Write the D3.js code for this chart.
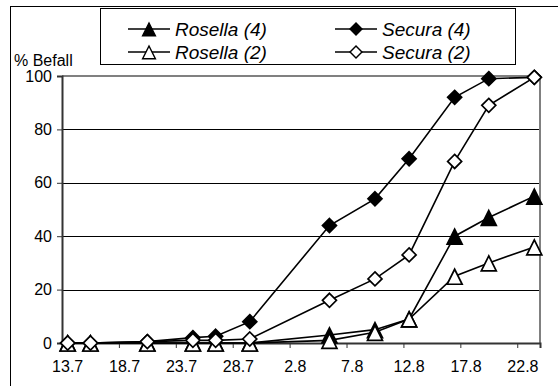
<!DOCTYPE html>
<html>
<head>
<meta charset="utf-8">
<script src="https://cdn.jsdelivr.net/npm/d3@7"></script>
<style>
  body { margin: 0; background: #fff; }
  svg { display: block; font-family: "Liberation Sans", Arial, sans-serif; }
</style>
</head>
<body>
<div id="chart"></div>
<script>
// sampling dates (day.month) and % infestation per variety
var dates = ["13.7", "15.7", "20.7", "24.7", "26.7", "29.7", "5.8", "9.8", "12.8", "16.8", "19.8", "23.8"];
var rosella4 = [0, 0, 0, 0, 0, 0, 3, 5, 9, 40, 47, 55];
var secura4 = [0, 0, 0.5, 2, 2.5, 8, 44, 54, 69, 92, 99, 99.5];
var rosella2 = [0, 0, 0, 0, 0, 0, 1, 4, 9, 25, 30, 36];
var secura2 = [0, 0, 0.5, 1, 1, 1.5, 16, 24, 33, 68, 89, 99.5];
var xTickLabels = ["13.7", "18.7", "23.7", "28.7", "2.8", "7.8", "12.8", "17.8", "22.8"];
var yTicks = [0, 20, 40, 60, 80, 100];

function drawChart() {
    var W = 558, H = 386;
    var pl = 62, pr = 540, pt = 76, pb = 343;

    function parseDay(s) {
        var p = s.split(".");
        return new Date(Date.UTC(2001, +p[1] - 1, +p[0]));
    }
    var HALF = 12 * 3600 * 1000;

    var svg = d3.select("#chart").append("svg")
        .attr("width", W)
        .attr("height", H);

    svg.append("rect").attr("width", W).attr("height", H).attr("fill", "#fff");
    // chart area border (runs off right / bottom)
    svg.append("rect")
        .attr("x", 10.5).attr("y", 6.5)
        .attr("width", 600).attr("height", 400)
        .attr("fill", "none").attr("stroke", "#000").attr("stroke-width", 1);

    var x = d3.scaleUtc()
        .domain([new Date(parseDay("13.7") - HALF), new Date(+parseDay("23.8") + HALF)])
        .range([pl, pr]);
    var y = d3.scaleLinear().domain([0, 100]).range([pb, pt]);

    // gridlines
    svg.append("g").selectAll("line")
        .data(yTicks.filter(function (d) { return d > 0 && d < 100; }))
        .enter().append("line")
        .attr("x1", pl).attr("x2", pr)
        .attr("y1", function (d) { return Math.round(y(d)) + 0.5; })
        .attr("y2", function (d) { return Math.round(y(d)) + 0.5; })
        .attr("stroke", "#000").attr("stroke-width", 1);

    // plot frame top / right in grey
    svg.append("path")
        .attr("d", "M" + pl + "," + y(100) + "H" + pr + "V" + pb)
        .attr("fill", "none").attr("stroke", "#808080").attr("stroke-width", 2);

    // y axis
    var yAxis = svg.append("g")
        .attr("transform", "translate(" + pl + ",0)")
        .call(d3.axisLeft(y).tickValues(yTicks).tickSize(5).tickPadding(5));
    yAxis.select(".domain").attr("stroke", "#333").attr("stroke-width", 2);
    yAxis.selectAll(".tick line").attr("stroke", "#333");
    yAxis.selectAll("text").attr("font-size", 16).attr("fill", "#000")
        .attr("font-family", "Liberation Sans, Arial, sans-serif");

    // x axis: ticks between days, labels on the day
    var tickDates = xTickLabels.map(function (s) { return new Date(parseDay(s) - HALF); });
    var xAxis = svg.append("g")
        .attr("transform", "translate(0," + pb + ")")
        .call(d3.axisBottom(x).tickValues(tickDates).tickSize(5).tickFormat(""));
    xAxis.select(".domain").attr("stroke", "#333").attr("stroke-width", 2);
    xAxis.selectAll(".tick line").attr("stroke", "#333");

    svg.append("g").selectAll("text")
        .data(xTickLabels)
        .enter().append("text")
        .attr("x", function (d) { return x(parseDay(d)); })
        .attr("y", 372)
        .attr("text-anchor", "middle")
        .attr("font-size", 16)
        .text(function (d) { return d; });

    svg.append("text")
        .attr("x", 14).attr("y", 66)
        .attr("font-size", 16)
        .text("% Befall");

    // markers
    var diamond = "M0,-7L7,0L0,7L-7,0Z";
    var triangle = "M0,-7L7.5,8L-7.5,8Z";

    var series = [
        {name: "Rosella (4)", values: rosella4, shape: triangle, fill: "#000"},
        {name: "Secura (4)", values: secura4, shape: diamond, fill: "#000"},
        {name: "Rosella (2)", values: rosella2, shape: triangle, fill: "#fff"},
        {name: "Secura (2)", values: secura2, shape: diamond, fill: "#fff"}
    ];

    var line = d3.line()
        .x(function (d) { return x(d.date); })
        .y(function (d) { return y(d.value); });

    series.forEach(function (s) {
        var pts = dates.map(function (d, i) { return {date: parseDay(d), value: s.values[i]}; });
        var g = svg.append("g");
        g.append("path")
            .attr("d", line(pts))
            .attr("fill", "none").attr("stroke", "#000").attr("stroke-width", 1.6);
        g.selectAll("path.m")
            .data(pts)
            .enter().append("path")
            .attr("class", "m")
            .attr("d", s.shape)
            .attr("transform", function (d) { return "translate(" + x(d.date) + "," + y(d.value) + ")"; })
            .attr("fill", s.fill).attr("stroke", "#000").attr("stroke-width", 1.7)
            .attr("stroke-linejoin", "miter");
    });

    // legend
    var lg = svg.append("g");
    lg.append("rect")
        .attr("x", 100.5).attr("y", 8.5).attr("width", 415).attr("height", 56)
        .attr("fill", "#fff").attr("stroke", "#000").attr("stroke-width", 1);
    var legendPos = [[128, 29], [335, 29], [128, 52], [335, 52]];
    series.forEach(function (s, i) {
        var p = legendPos[i];
        lg.append("line")
            .attr("x1", p[0]).attr("x2", p[0] + 42)
            .attr("y1", p[1]).attr("y2", p[1])
            .attr("stroke", "#000").attr("stroke-width", 1.6);
        lg.append("path")
            .attr("d", s.shape)
            .attr("transform", "translate(" + (p[0] + 21) + "," + p[1] + ") scale(0.85)")
            .attr("fill", s.fill).attr("stroke", "#000").attr("stroke-width", 1.7);
        lg.append("text")
            .attr("x", p[0] + 47).attr("y", p[1] + 7)
            .attr("font-size", 19).attr("font-style", "italic")
            .text(s.name);
    });
}
drawChart();
</script>
</body>
</html>
